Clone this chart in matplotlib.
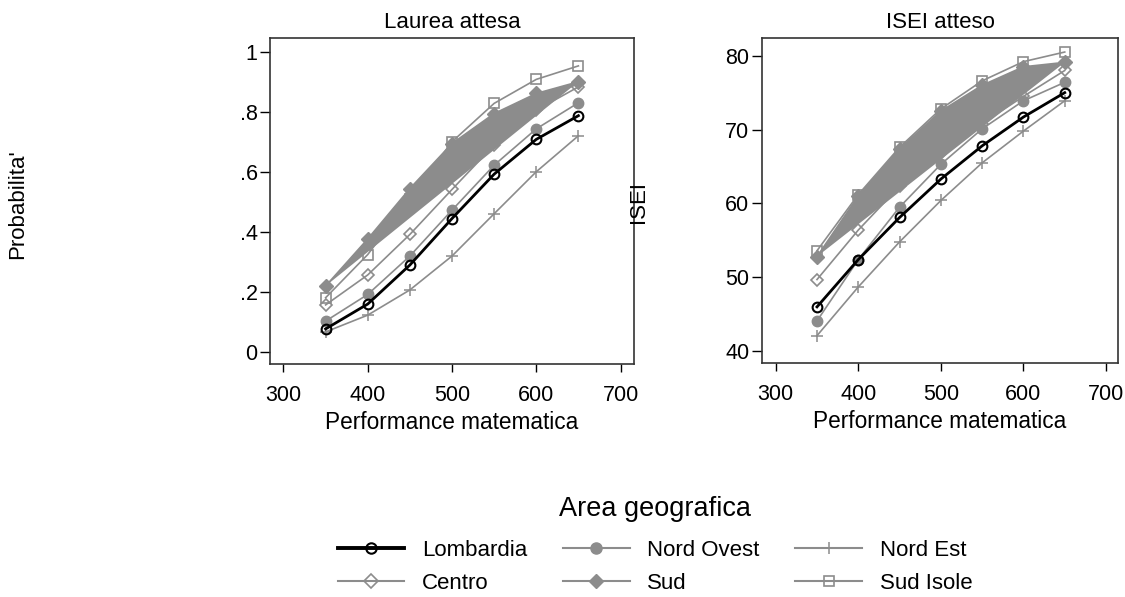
import matplotlib
matplotlib.use("Agg")
import matplotlib.pyplot as plt
from matplotlib.lines import Line2D

plt.rcParams['font.family'] = ['Liberation Sans', 'DejaVu Sans']

performance = [350, 400, 450, 500, 550, 600, 650]
regions = ["Lombardia", "Nord Ovest", "Nord Est", "Centro", "Sud", "Sud Isole"]

laurea_lombardia = [0.076, 0.159, 0.289, 0.444, 0.592, 0.708, 0.787]
laurea_nord_ovest = [0.102, 0.191, 0.319, 0.472, 0.622, 0.743, 0.830]
laurea_nord_est = [0.066, 0.122, 0.206, 0.319, 0.460, 0.600, 0.720]
laurea_centro = [0.156, 0.256, 0.391, 0.541, 0.689, 0.805, 0.883]
laurea_sud = [0.219, 0.376, 0.544, 0.694, 0.794, 0.861, 0.900]
laurea_sud_isole = [0.180, 0.324, 0.510, 0.700, 0.828, 0.908, 0.953]

isei_lombardia = [46.0, 52.4, 58.1, 63.3, 67.8, 71.7, 75.0]
isei_nord_ovest = [44.1, 52.4, 59.5, 65.3, 70.1, 73.9, 76.4]
isei_nord_est = [42.1, 48.7, 54.8, 60.4, 65.5, 69.8, 73.9]
isei_centro = [49.7, 56.4, 62.3, 66.8, 70.8, 74.5, 78.0]
isei_sud = [52.8, 61.0, 67.4, 72.5, 76.0, 78.5, 79.1]
isei_sud_isole = [53.6, 61.2, 67.6, 72.8, 76.6, 79.2, 80.5]

GRAY = "#8c8c8c"

styles = {
    "Lombardia": dict(color="black", lw=2.0, marker="o", mfc="none", mec="black", ms=7, mew=1.5),
    "Nord Ovest": dict(color=GRAY, lw=1.2, marker="o", mfc=GRAY, mec=GRAY, ms=7.5),
    "Nord Est": dict(color=GRAY, lw=1.2, marker="+", mfc=GRAY, mec=GRAY, ms=8, mew=1.1),
    "Centro": dict(color=GRAY, lw=1.2, marker="D", mfc="none", mec=GRAY, ms=6.5, mew=1.2),
    "Sud": dict(color=GRAY, lw=1.2, marker="D", mfc=GRAY, mec=GRAY, ms=7),
    "Sud Isole": dict(color=GRAY, lw=1.2, marker="s", mfc="none", mec=GRAY, ms=7, mew=1.2),
}

W, H = 1125, 597
fig = plt.figure(figsize=(W / 100, H / 100), dpi=100)

def axes_px(x0, y0, x1, y1):
    return fig.add_axes([x0 / W, 1 - y1 / H, (x1 - x0) / W, (y1 - y0) / H])

ax1 = axes_px(270, 38, 634, 364)
ax2 = axes_px(762, 38, 1118, 363)

def draw(ax, series):
    order = ["Sud", "Sud Isole", "Centro", "Nord Est", "Nord Ovest", "Lombardia"]
    for name in order:
        y = series[name]
        st = styles[name]
        if name == "Sud":
            ax.fill(performance, y, color=GRAY, lw=0, zorder=2)
        ax.plot(performance, y, color=st["color"], lw=st["lw"], marker=st["marker"],
                mfc=st["mfc"], mec=st["mec"], ms=st["ms"], mew=st.get("mew", 1.0),
                zorder=5 if name == "Lombardia" else 3)
    ax.set_xticks([300, 400, 500, 600, 700])
    ax.tick_params(axis="x", labelsize=15.5, length=6, width=1, direction="out", pad=9)
    ax.tick_params(axis="y", labelsize=15.5, length=7, width=1, direction="out", pad=2)
    for s in ax.spines.values():
        s.set_linewidth(1.2)
        s.set_color("#333333")

left = {"Lombardia": laurea_lombardia, "Nord Ovest": laurea_nord_ovest, "Nord Est": laurea_nord_est,
        "Centro": laurea_centro, "Sud": laurea_sud, "Sud Isole": laurea_sud_isole}
right = {"Lombardia": isei_lombardia, "Nord Ovest": isei_nord_ovest, "Nord Est": isei_nord_est,
         "Centro": isei_centro, "Sud": isei_sud, "Sud Isole": isei_sud_isole}

draw(ax1, left)
draw(ax2, right)

ax1.set_xlim(284, 716)
ax1.set_ylim(-0.041, 1.046)
ax1.set_yticks([0, 0.2, 0.4, 0.6, 0.8, 1.0])
ax1.set_yticklabels(["0", ".2", ".4", ".6", ".8", "1"])
ax2.set_xlim(283.4, 714.5)
ax2.set_ylim(38.4, 82.4)
ax2.set_yticks([40, 50, 60, 70, 80])

ax1.set_title("Laurea attesa", fontsize=16, pad=7)
ax2.set_title("ISEI atteso", fontsize=16, pad=7)
ax1.set_xlabel("Performance matematica", fontsize=16.3, labelpad=4)
ax2.set_xlabel("Performance matematica", fontsize=16.3, labelpad=4)

fig.text(18 / W, 1 - 204 / H, "Probabilita'", rotation=90, ha="center", va="center", fontsize=16)
fig.text(639 / W, 1 - 202 / H, "ISEI", rotation=90, ha="center", va="center", fontsize=16)

handles = {}
for name in regions:
    st = styles[name]
    handles[name] = Line2D([0], [0], color=st["color"], lw=st["lw"] + (0.8 if name == "Lombardia" else 0.3),
                           marker=st["marker"], mfc=st["mfc"], mec=st["mec"],
                           ms=st["ms"] + 0.5, mew=st.get("mew", 1.0))
# legend is filled column by column; arrange so rows read as in the reference
leg_order = ["Lombardia", "Centro", "Nord Ovest", "Sud", "Nord Est", "Sud Isole"]
leg = fig.legend([handles[n] for n in leg_order], leg_order, loc="center",
                 bbox_to_anchor=(655 / W, 1 - 545 / H),
                 ncol=3, frameon=False, fontsize=16, title="Area geografica",
                 title_fontsize=19.5, handlelength=3.0, columnspacing=1.6,
                 handletextpad=0.8, labelspacing=0.55)
leg._legend_box.sep = 13
fig.savefig("out.png", dpi=100)
